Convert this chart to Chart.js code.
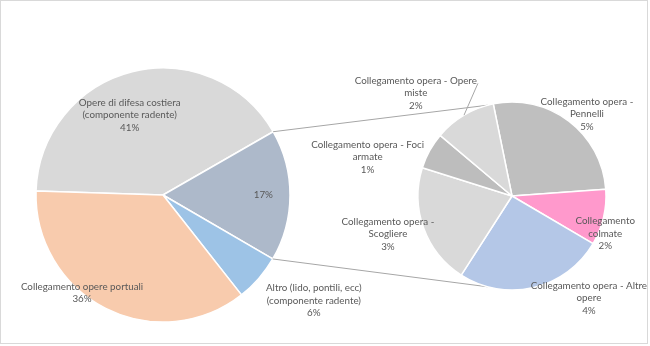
<!DOCTYPE html>
<html>
<head>
<meta charset="utf-8">
<script src="https://cdn.jsdelivr.net/npm/chart.js@4/dist/chart.umd.min.js"></script>
<style>
  html, body { margin: 0; padding: 0; background: #ffffff; }
  #wrap { position: relative; width: 650px; height: 346px; overflow: hidden; }
  #wrap canvas { position: absolute; left: 0; top: 0; }
  #frame { position: absolute; left: 0; top: 0; width: 646px; height: 342px; border: 1px solid #d9d9d9; pointer-events: none; }
</style>
</head>
<body>
<div id="wrap">
  <canvas id="mainPie" width="650" height="346"></canvas>
  <canvas id="detailPie" width="650" height="346"></canvas>
  <div id="frame"></div>
</div>
<script>
// Primary pie categories (percent of total)
const mainLabels = [
  'Opere di difesa costiera (componente radente)',
  'Altro (lido, pontili, ecc) (componente radente)',
  'Collegamento opere portuali'
];
const mainValues = [41.2, 6.0, 36.1];

// Breakdown of the grouped slice, shown in the secondary pie
const detailLabels = [
  'Collegamento opera - Pennelli',
  'Collegamento colmate',
  'Collegamento opera - Altre opere',
  'Collegamento opera - Scogliere',
  'Collegamento opera - Foci armate',
  'Collegamento opera - Opere miste'
];
const detailValues = [4.52, 1.60, 4.28, 3.47, 1.05, 1.78];

const detailSum = detailValues.reduce((a, b) => a + b, 0);

// Primary pie in drawing order: difesa, grouped slice, altro, portuali
const primaryData = [mainValues[0], detailSum, mainValues[1], mainValues[2]];
const primaryNames = [mainLabels[0], '', mainLabels[1], mainLabels[2]];

const primaryColors = ['#d9d9d9', '#adb9ca', '#9dc3e6', '#f8cbad'];
const detailColors = ['#bfbfbf', '#ff99cc', '#b4c7e7', '#d9d9d9', '#bdbdbd', '#d9d9d9'];

// Label placement: polar angle (deg, counter-clockwise from 3 o'clock),
// distance as a multiple of the radius, wrap width in px
const primaryPlace = [
  { deg: 112.7, k: 0.68, wrap: 125 },
  { deg: 0, k: 0.79, wrap: 125 },
  { deg: -35, k: 1.45, wrap: 125 },
  { deg: 230.4, k: 1.0, wrap: 140 }
];
const detailPlace = [
  { deg: 47.5, k: 1.18, wrap: 120 },
  { deg: -22, k: 1.07, wrap: 75 },
  { deg: -53, k: 1.36, wrap: 124 },
  { deg: 197, k: 1.38, wrap: 120 },
  { deg: 165, k: 1.59, wrap: 124 },
  { deg: 133, k: 1.5, wrap: 132, leader: true }
];

const FONT = '9.8px Lato, "Liberation Sans", sans-serif';
const TEXT = '#595959';
const LINE_H = 12.5;

Chart.defaults.font.family = 'Lato, "Liberation Sans", sans-serif';

function wrapText(ctx, text, maxW) {
  if (!text) return [];
  const words = text.split(' ');
  const lines = [];
  let cur = '';
  for (const w of words) {
    const test = cur ? cur + ' ' + w : w;
    if (ctx.measureText(test).width > maxW && cur) {
      lines.push(cur);
      cur = w;
    } else {
      cur = test;
    }
  }
  if (cur) lines.push(cur);
  return lines;
}

function labelPlugin(names, places) {
  return {
    id: 'sliceLabels',
    afterDatasetsDraw(chart) {
      const ctx = chart.ctx;
      const meta = chart.getDatasetMeta(0);
      const values = chart.data.datasets[0].data;
      ctx.save();
      ctx.font = FONT;
      ctx.fillStyle = TEXT;
      ctx.textAlign = 'center';
      ctx.textBaseline = 'middle';
      meta.data.forEach((arc, i) => {
        const p = places[i];
        const r = arc.outerRadius;
        const a = p.deg * Math.PI / 180;
        const cx = arc.x + Math.cos(a) * r * p.k;
        const cy = arc.y - Math.sin(a) * r * p.k;
        const lines = wrapText(ctx, names[i], p.wrap);
        lines.push(Math.round(values[i]) + '%');
        const top = cy - (lines.length - 1) * LINE_H / 2;
        lines.forEach((ln, j) => ctx.fillText(ln, cx, top + j * LINE_H));
        if (p.leader) {
          const w0 = ctx.measureText(lines[0]).width;
          const sx = cx + w0 / 2 + 1;
          const sy = top + 3;
          const mid = (arc.startAngle + arc.endAngle) / 2;
          const ex = arc.x + Math.cos(mid) * r;
          const ey = arc.y + Math.sin(mid) * r;
          ctx.strokeStyle = '#a6a6a6';
          ctx.lineWidth = 1;
          ctx.beginPath();
          ctx.moveTo(sx, sy);
          ctx.lineTo(ex, ey);
          ctx.stroke();
        }
      });
      ctx.restore();
    }
  };
}

const common = {
  responsive: false,
  animation: false,
  events: [],
  plugins: { legend: { display: false }, tooltip: { enabled: false } }
};

const mainChart = new Chart(document.getElementById('mainPie'), {
  type: 'pie',
  data: {
    labels: primaryNames,
    datasets: [{
      data: primaryData,
      backgroundColor: primaryColors,
      borderColor: '#ffffff',
      borderWidth: 1.5
    }]
  },
  options: Object.assign({}, common, {
    rotation: -88.2,
    radius: 127,
    layout: { padding: { left: 36, right: 360, top: 68, bottom: 24 } }
  }),
  plugins: [labelPlugin(primaryNames, primaryPlace)]
});

// Lines joining the grouped slice to the secondary pie
const connectorPlugin = {
  id: 'connectors',
  beforeDatasetsDraw(chart) {
    const grouped = mainChart.getDatasetMeta(0).data[1];
    const arcs = chart.getDatasetMeta(0).data;
    if (!grouped || !arcs.length) return;
    const R = grouped.outerRadius;
    const cx2 = arcs[0].x, cy2 = arcs[0].y, r2 = arcs[0].outerRadius;
    const ctx = chart.ctx;
    const targetA = 105 * Math.PI / 180;
    const pts = [
      [grouped.startAngle, -targetA],
      [grouped.endAngle, targetA]
    ];
    ctx.save();
    ctx.strokeStyle = '#a6a6a6';
    ctx.lineWidth = 1;
    pts.forEach(([a1, a2]) => {
      ctx.beginPath();
      ctx.moveTo(grouped.x + Math.cos(a1) * R, grouped.y + Math.sin(a1) * R);
      ctx.lineTo(cx2 + Math.cos(a2) * r2, cy2 + Math.sin(a2) * r2);
      ctx.stroke();
    });
    ctx.restore();
  }
};

new Chart(document.getElementById('detailPie'), {
  type: 'pie',
  data: {
    labels: detailLabels,
    datasets: [{
      data: detailValues,
      backgroundColor: detailColors,
      borderColor: '#ffffff',
      borderWidth: 1.5
    }]
  },
  options: Object.assign({}, common, {
    rotation: -11.5,
    radius: 94,
    layout: { padding: { left: 417, right: 43, top: 101, bottom: 55 } }
  }),
  plugins: [connectorPlugin, labelPlugin(detailLabels, detailPlace)]
});
</script>
</body>
</html>
